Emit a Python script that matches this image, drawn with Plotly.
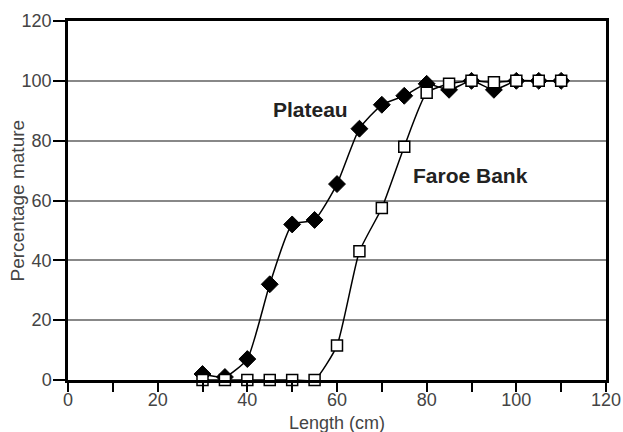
import plotly.graph_objects as go

lengths = [30, 35, 40, 45, 50, 55, 60, 65, 70, 75, 80, 85, 90, 95, 100, 105, 110]
plateau = [2, 1, 7, 32, 52, 53.5, 65.5, 84, 92, 95, 99, 97, 100, 97, 100, 100, 100]
faroe_bank = [0, 0, 0, 0, 0, 0, 11.5, 43, 57.5, 78, 96, 99, 100, 99.5, 100, 100, 100]
x_ticks = [0, 20, 40, 60, 80, 100, 120]
y_ticks = [0, 20, 40, 60, 80, 100, 120]

font_family = "Liberation Sans, Arial, sans-serif"
gray = "#444"

fig = go.Figure()
fig.add_trace(go.Scatter(
    x=lengths, y=plateau, mode="lines+markers", name="Plateau",
    line=dict(color="black", width=1.5, shape="spline", smoothing=0.5),
    marker=dict(symbol="diamond", size=13, color="black", line=dict(color="black", width=1)),
    cliponaxis=False,
))
fig.add_trace(go.Scatter(
    x=lengths, y=faroe_bank, mode="lines+markers", name="Faroe Bank",
    line=dict(color="black", width=1.5, shape="spline", smoothing=0.5),
    marker=dict(symbol="square", size=11, color="white", line=dict(color="black", width=1.5)),
    cliponaxis=False,
))

fig.add_annotation(x=54, y=90.5, text="<b>Plateau</b>", showarrow=False,
                   font=dict(size=21, color="#222", family=font_family))
fig.add_annotation(x=89.7, y=68.5, text="<b>Faroe Bank</b>", showarrow=False,
                   font=dict(size=21, color="#222", family=font_family))

# axis titles as annotations for exact placement
fig.add_annotation(x=0.5, xref="paper", y=0, yref="paper", yshift=-31,
                   text="Length (cm)", showarrow=False, yanchor="top",
                   font=dict(size=18, color=gray, family=font_family))
fig.add_annotation(x=0, xref="paper", y=0.5, yref="paper", xshift=-51,
                   text="Percentage mature", showarrow=False, textangle=-90,
                   xanchor="center", yanchor="middle",
                   font=dict(size=19, color=gray, family=font_family))

fig.update_layout(
    width=623, height=432,
    margin=dict(l=68, r=17, t=21, b=52, autoexpand=False),
    paper_bgcolor="white", plot_bgcolor="white",
    showlegend=False,
    font=dict(family=font_family, size=18, color=gray),
)
fig.update_xaxes(
    range=[0, 120], tickvals=x_ticks, ticks="outside", ticklen=9, tickwidth=2, tickcolor="black",
    showline=True, linecolor="black", linewidth=2.5, mirror=True, showgrid=False, zeroline=False,
    minor=dict(dtick=10, ticks="outside", ticklen=9, tickwidth=2, tickcolor="black"),
    tickfont=dict(size=18, color=gray), automargin=False, ticklabelstandoff=-7,
)
fig.update_yaxes(
    range=[0, 120], tickvals=y_ticks, ticks="outside", ticklen=12, tickwidth=2, tickcolor="black",
    showline=True, linecolor="black", linewidth=2.5, mirror=True,
    showgrid=True, gridcolor="#888", gridwidth=2, zeroline=False,
    tickfont=dict(size=18, color=gray), automargin=False, ticklabelstandoff=-2,
)

# remove the browser's default 8px body margin so the 623x432 figure fills the window
fig.write_html("out.html", config={"displayModeBar": False},
               post_script="document.body.style.margin='0';")
